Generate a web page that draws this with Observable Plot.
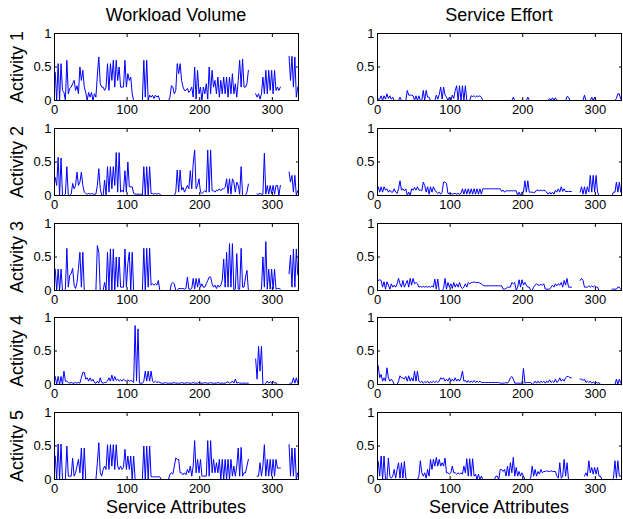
<!DOCTYPE html>
<html><head><meta charset="utf-8">
<script src="https://cdn.jsdelivr.net/npm/d3@7"></script>
<script src="https://cdn.jsdelivr.net/npm/@observablehq/plot@0.6"></script>
<style>
body{margin:0;background:#fff;}
#wrap{position:relative;width:623px;height:519px;overflow:hidden;font-family:"Liberation Sans",Arial,Helvetica,sans-serif;color:#000;}
.lbl{position:absolute;font-size:18px;line-height:1;white-space:nowrap;transform:translate(-50%,-50%);}
.rot{transform:translate(-50%,-50%) rotate(-90deg);}
.panel{position:absolute;}
</style></head><body><div id="wrap"></div>
<script>
const columnTitles = ["Workload Volume", "Service Effort"];
const rowLabels = ["Activity 1", "Activity 2", "Activity 3", "Activity 4", "Activity 5"];
const xLabel = "Service Attributes";
const xTicks = [0, 100, 200, 300];
const yTicks = [0, 0.5, 1];
const xDomain = [0, 336];
const xStep = 2; // one sample every 2 attributes, first at attribute 1

const workload1 = [.42,0,.55,0,.55,.15,.12,0,.6,.1,
 .18,.2,.25,.3,.15,.22,.1,.5,.3,.45,
 .2,.12,0,.12,.05,.12,0,.1,.05,.38,
 .65,.25,.2,.2,.15,.2,.55,.15,.55,.3,
 .6,.2,.6,.3,.5,.2,.2,.2,.6,.2,
 .4,.3,.35,.1,0,0,0,0,0,0,
 0,.6,.05,.6,0,.08,.05,.08,.03,.08,
 .05,.07,0,0,0,0,0,0,0,.05,
 .22,.2,.1,.15,.55,.4,.55,.3,.2,.15,
 .15,.18,.12,.15,.2,.05,.5,.02,.45,.1,
 .2,0,.2,.1,.25,.02,.5,.1,.45,.2,
 .3,.1,.35,.05,.3,.1,.35,.1,.35,.05,
 .35,.1,.4,.1,.25,.05,.3,.6,.2,.62,
 .2,.2,.25,.45,null,null,null,null,.1,.05,
 .1,.02,.1,.35,.1,.45,.1,.45,.15,.45,
 .1,.45,.15,.2,.15,.2,null,null,null,null,
 null,.66,.3,.66,.2,.65,.05,.2];
const workload2 = [.27,.15,.57,0,.56,0,0,.02,.43,0,
 0,.02,.18,.1,.15,.35,.15,.2,.35,.15,
 .05,.03,.02,.03,.02,.03,.02,.02,.02,.15,
 .4,.1,0,0,.23,0,.43,.05,.43,.1,
 .43,.15,.64,.05,.64,.05,.08,.05,.37,.05,
 .5,.13,.13,.13,.03,.02,.02,.02,.02,.02,
 0,.43,0,.43,0,.43,.03,.03,.02,.03,
 .02,.03,.02,0,0,0,0,0,0,0,
 0,0,0,.05,.38,.05,.38,.08,.12,.05,
 .1,.15,.1,.37,.1,.48,.68,.1,.15,.25,
 .05,.03,.05,.07,.05,.68,.05,.68,.07,.07,
 .05,.08,.07,.1,.07,.1,.1,.12,.25,.03,
 .25,.02,.25,.2,.05,.2,.15,.02,.43,0,
 0,0,.05,.17,null,null,null,null,null,.02,
 .02,.03,.02,.02,.63,.02,.15,.02,.15,.03,
 .15,.02,.15,.15,0,.15,null,null,null,null,
 null,.35,.2,.3,.05,.3,0,.07];
const workload3 = [.32,0,.32,0,.32,0,0,.02,.63,.05,
 .23,.25,.33,.08,.03,.12,.33,.57,.05,.57,
 0,0,0,0,0,0,0,0,0,.67,
 .57,0,0,0,.12,0,.57,0,.62,0,
 .62,0,.5,.05,.5,.05,.05,.05,.62,.05,
 .4,.57,0,.57,0,0,0,0,0,0,
 0,.63,0,.63,.05,.63,.08,.1,.08,.1,
 .08,.15,0,0,0,0,0,0,0,0,
 .1,.12,.1,0,0,.03,.03,.03,.03,.02,
 .03,.2,.02,.02,.03,.18,.02,.18,.05,.18,
 .05,.1,.05,.05,.1,.15,.2,.2,.1,.05,
 .08,.03,.08,.05,.08,.15,.47,.05,.57,.05,
 .7,.05,.7,0,.02,.55,.02,.02,.63,.05,
 .05,.2,.3,0,null,null,null,null,null,null,
 null,0,.02,.5,.05,.73,.02,.32,.02,.32,
 .02,.32,.02,.03,.03,.02,null,null,null,null,
 null,.25,.53,.05,.62,.05,.62,.23];
const workload4 = [.12,0,.12,0,.12,0,.2,.05,.05,.03,
 .02,.03,.02,.02,.03,.02,.03,.02,.1,.18,
 .18,.08,.1,.05,.1,.05,.08,.03,.02,.05,
 .02,.1,.03,.02,.03,.03,.05,.1,.05,.14,
 .05,.12,.06,.08,.05,.07,.05,.08,.06,.05,
 .07,.05,.06,.05,.03,.88,.05,.83,.02,.02,
 .02,.05,.2,.05,.2,.05,.2,.05,.03,.05,
 .03,.04,.03,.02,.02,.02,.03,.02,.02,.02,
 .02,.02,.03,.02,.02,.02,.02,.03,.02,.02,
 .02,.03,.02,.02,.02,.03,.02,.02,.02,.03,
 .02,.02,.02,.03,.02,.02,.02,.03,.02,.02,
 .02,.02,.03,.02,.02,.02,.02,.02,.03,.04,
 .02,.03,.05,.02,.08,.02,.03,.02,.02,.02,
 .02,.02,.02,.02,null,null,null,null,.38,.08,
 .57,.2,.57,0,0,.02,.05,.02,.04,.02,
 .05,.02,.03,0,0,0,null,null,null,null,
 null,0,.02,.02,.1,.02,.1,.02];
const workload5 = [.35,0,.53,0,.53,0,0,0,.5,.05,
 .05,.05,.32,.05,.1,.2,.3,.1,.47,0,
 .47,0,0,0,0,0,0,0,0,.25,
 .55,.1,.05,.15,.2,.15,.52,.15,.52,.2,
 .52,.15,.52,.2,.15,.2,.15,.18,.45,.15,
 .35,.15,.35,0,.35,0,0,0,0,0,
 0,.5,0,.5,0,.5,.04,.04,.04,.04,
 .04,.04,.04,0,0,0,0,0,0,.08,
 .1,.08,.2,.32,.3,.3,.1,.1,.07,.1,
 .07,.15,.1,.2,.05,.2,.58,.1,.3,.1,
 .3,.05,.05,.05,.05,.58,.05,.58,.1,.3,
 .1,.25,.1,.3,0,.3,0,.3,0,.3,
 0,.3,.05,.2,.05,.2,.47,.05,.48,.05,
 .1,.1,.2,.3,null,null,null,null,null,.05,
 .05,.25,.05,.2,.52,.05,.3,.05,.3,.05,
 .3,.05,.3,.17,.17,.17,null,null,null,null,
 null,.52,.05,.47,.05,.47,0,.1];

const effort1 = [.02,.02,.07,0,.07,.02,.1,.03,.07,.02,
 .05,0,0,0,0,.05,0,0,0,0,
 .15,.08,.08,.08,.07,0,.07,0,.07,0,
 0,.15,0,.15,.05,.05,0,0,0,0,
 .08,.02,.09,.2,.02,.2,.08,.05,0,.05,
 0,.08,.03,.15,.22,0,.22,0,.22,0,
 .22,0,0,0,.07,.06,.07,.05,.07,.06,
 .07,.05,0,0,0,0,0,0,0,0,
 0,0,0,0,0,0,0,0,0,0,
 0,0,0,.05,0,0,0,0,0,0,
 0,0,0,.05,0,0,0,0,0,0,
 0,0,0,0,0,0,0,0,.03,0,
 .04,0,.04,0,0,0,0,0,0,0,
 .06,.05,0,0,null,null,null,null,null,0,
 0,0,.08,0,0,0,0,.05,0,.05,
 0,0,0,0,0,null,null,null,null,null,
 null,0,0,0,.03,.1,.1,.02];
const effort2 = [.13,.05,.13,.05,.13,.08,.1,.05,.08,.05,
 .05,.1,.05,.03,.1,.22,.08,.1,.07,.1,
 0,.05,0,.1,.08,.12,.08,.13,.08,.08,
 .07,.2,.15,.05,.13,.02,.13,.05,.13,.08,
 .05,.03,.05,.02,.05,.2,.2,.18,.03,.03,
 .03,.02,.03,.03,.02,.03,.02,.03,.1,.02,
 .1,.02,.1,.02,.1,.02,.1,.02,.1,.02,
 .1,.02,.1,.1,.1,.1,.1,.1,.1,.1,
 .1,.1,.1,.1,.1,.06,.08,.05,.07,.07,
 .07,.07,.07,.07,.07,.07,0,.05,0,.05,
 .05,.22,.05,.22,.05,.05,.05,.04,.05,.08,
 .08,.07,.08,.07,.08,.07,.05,.02,.05,.02,
 .05,.02,.08,.05,.1,.05,.13,.06,.1,.06,
 .06,.06,.06,.06,null,null,null,null,null,.05,
 .13,.02,.13,.02,.13,.05,.3,.05,.3,.05,
 .3,.05,0,0,0,null,null,null,null,null,
 null,0,.05,.05,.2,.05,.2,.05];
const effort3 = [.15,.16,.15,.05,.13,.02,.13,.08,.02,.1,
 .05,.08,.05,.1,.18,.1,.05,.15,.05,.1,
 .15,.05,.18,.08,.18,.1,.12,.1,.05,.06,
 .05,.06,.05,.06,.05,.06,.05,.07,.05,.17,
 .02,.17,0,0,0,.03,.18,.02,.12,.05,
 .1,.03,.12,.05,.1,.05,.12,.05,.03,.05,
 .1,.05,.12,.1,.12,.12,.13,.12,.12,.12,
 .11,.1,.08,.07,.07,.07,.07,.07,.07,.07,
 .07,.07,.07,.07,.07,.07,.02,.02,.03,.05,
 .05,.05,.12,.1,.12,0,.05,.16,.05,.16,
 .08,.12,.08,.05,.05,0,0,.05,.08,.1,
 .08,.08,.09,.08,.1,.02,.02,.02,.02,.05,
 .08,.05,.1,.07,.1,.08,.12,.05,.15,.08,
 .18,.05,.05,.05,null,null,null,null,null,.15,
 .18,.15,.05,.05,.05,.07,.05,.07,.05,.07,
 .05,.05,0,0,0,null,null,null,null,null,
 null,.02,.02,.02,.02,.05,.05,.02];
const effort4 = [.28,.1,.15,.05,.1,.05,.25,.1,.05,.08,
 .05,0,0,0,.05,.13,.1,.1,.08,.12,
 .05,.13,.05,.1,.05,.2,.05,.2,.05,.03,
 .05,.02,.04,.03,.05,.02,.04,.03,.05,.03,
 .05,.03,.05,.1,.08,.1,.05,.08,.05,.1,
 .05,.08,.05,.1,.05,.08,.05,.1,.2,.05,
 .06,.03,.06,.03,.05,.03,.06,.03,.05,.03,
 .05,.03,.03,.03,.03,.03,.03,.03,.03,.03,
 .03,.03,.03,.03,.02,.02,.02,.02,.03,.02,
 .05,.1,.12,.08,.02,.02,.02,.02,.02,.02,
 .24,.02,.03,.03,.03,.03,0,.02,.05,.02,
 .05,.02,.05,.03,.05,.02,.05,.03,.07,.03,
 .05,.03,.08,.03,.05,.1,.05,.08,.05,.1,
 .12,.12,.1,.1,null,null,null,null,null,.08,
 .08,.06,.08,.03,.05,.03,.05,.02,.04,.02,
 .03,.02,.03,0,0,null,null,null,null,null,
 null,0,0,0,.08,0,.08,.02];
const effort5 = [.27,.05,.35,0,.35,0,0,.32,.05,.02,
 .05,.15,.02,.15,.25,.02,.25,.02,.27,.02,
 0,0,0,0,0,0,0,0,.05,.28,
 .1,.05,.1,.02,.15,.05,.3,.15,.3,.2,
 .33,.2,.3,.2,.25,.2,.32,.1,.1,.08,
 .1,.2,.1,.1,.08,.1,.08,.1,.08,.2,
 .1,.31,.05,.31,.05,.31,.05,.08,0,.08,
 0,.05,0,0,0,0,0,0,0,0,
 0,.05,.05,0,.15,.15,.12,.15,.05,.2,
 .05,.25,.1,.33,.05,.18,.05,.12,.05,.1,
 .05,0,0,0,0,.02,.2,.05,.15,.05,
 .12,.08,.15,.1,.12,.12,.13,.12,.12,.13,
 .12,.12,.12,.05,.02,.25,.02,.05,.3,.05,
 .25,0,0,0,null,null,null,null,null,null,
 null,null,.05,.1,.05,.28,.1,.18,.08,.18,
 .08,.18,.05,.05,0,null,null,null,null,null,
 null,0,.02,.28,.02,.28,.05,.05];

const columns = [
  [workload1, workload2, workload3, workload4, workload5],
  [effort1, effort2, effort3, effort4, effort5]
];

// layout (pixels)
const panelLeft = [54, 377];
const panelTop = [33, 128, 223, 317, 412];
const panelW = 244, panelH = 67;
const ML = 40, MR = 4, MT = 4, MB = 22;
const wrap = document.getElementById("wrap");

function label(text, x, y, rot) {
  const d = document.createElement("div");
  d.className = "lbl" + (rot ? " rot" : "");
  d.textContent = text;
  d.style.left = x + "px";
  d.style.top = y + "px";
  wrap.appendChild(d);
}

const fmt = d => String(d);
columns.forEach((series, c) => {
  series.forEach((values, r) => {
    const chart = Plot.plot({
      width: panelW + ML + MR,
      height: panelH + MT + MB,
      marginLeft: ML, marginRight: MR, marginTop: MT, marginBottom: MB,
      style: {fontFamily: '"Liberation Sans", Arial, sans-serif', fontSize: "13px", color: "#000", background: "transparent", overflow: "visible"},
      x: {domain: xDomain},
      y: {domain: [0, 1]},
      marks: [
        Plot.line(values, {x: (d, i) => i * xStep + 1, y: d => d, stroke: "#0000ff", strokeWidth: 1}),
        Plot.frame({stroke: "#000", strokeWidth: 1}),
        Plot.axisX({anchor: "bottom", ticks: xTicks, tickSize: 0, tickPadding: 4, tickFormat: fmt, label: null}),
        Plot.axisX({anchor: "bottom", ticks: xTicks, tickSize: -3, tickFormat: () => "", label: null}),
        Plot.axisX({anchor: "top", ticks: xTicks, tickSize: -3, tickFormat: () => "", label: null}),
        Plot.axisY({anchor: "left", ticks: yTicks, tickSize: 0, tickPadding: 3, tickFormat: fmt, label: null}),
        Plot.axisY({anchor: "left", ticks: yTicks, tickSize: -3, tickFormat: () => "", label: null}),
        Plot.axisY({anchor: "right", ticks: yTicks, tickSize: -3, tickFormat: () => "", label: null})
      ]
    });
    chart.classList.add("panel");
    chart.style.left = (panelLeft[c] - ML) + "px";
    chart.style.top = (panelTop[r] - MT) + "px";
    wrap.appendChild(chart);
  });
});

label(columnTitles[0], panelLeft[0] + panelW / 2, 15);
label(columnTitles[1], panelLeft[1] + panelW / 2, 15);
label(xLabel, panelLeft[0] + panelW / 2, 507);
label(xLabel, panelLeft[1] + panelW / 2, 507);
rowLabels.forEach((t, r) => label(t, 17, panelTop[r] + panelH / 2, true));
</script></body></html>
